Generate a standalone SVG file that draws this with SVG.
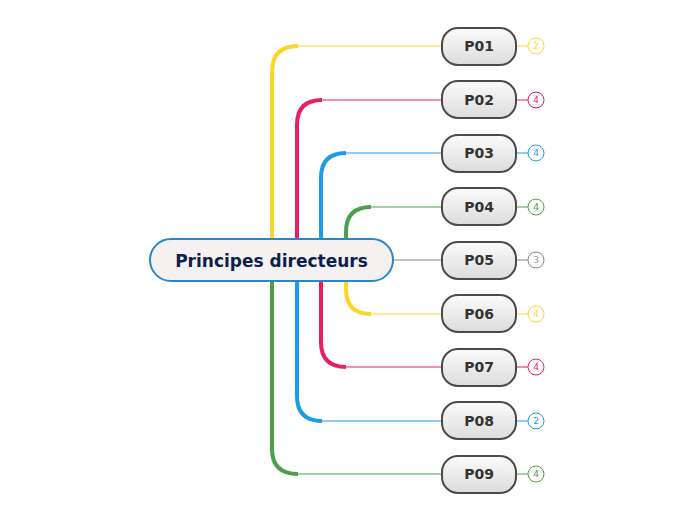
<svg xmlns="http://www.w3.org/2000/svg" width="696" height="520" viewBox="0 0 696 520">
<defs>
<linearGradient id="g" x1="0" y1="0" x2="0" y2="1"><stop offset="0" stop-color="#fbfbfb"/><stop offset="1" stop-color="#dcdcdc"/></linearGradient>
<style>
.n rect{fill:url(#g);stroke:#4a4a4a;stroke-width:2}
.n text{font-family:"DejaVu Sans",sans-serif;font-weight:bold;font-size:14px;fill:#333;text-anchor:middle}
.c{fill:#fff;stroke-width:1}
.ct{font-family:"DejaVu Sans",sans-serif;font-size:9px;text-anchor:middle}
.t{fill:none;stroke-width:4}
.h{fill:none;stroke-width:1}
.y{stroke:#fdd52a}.r{stroke:#e91e63}.b{stroke:#1e9be9}.gr{stroke:#4ca04a}.gy{stroke:#888}
</style>
</defs>
<g id="connectors">
<path class="t y" d="M272 240 V72 Q272 46 298 46"/><path class="h y" d="M296 46 H442 M516 46 H528"/>
<path class="t r" d="M297 240 V125 Q297 100 322 100"/><path class="h r" d="M320 100 H442 M516 100 H528"/>
<path class="t b" d="M321 240 V178 Q321 153 346 153"/><path class="h b" d="M344 153 H442 M516 153 H528"/>
<path class="t gr" d="M346 240 V232 Q346 207 371 207"/><path class="h gr" d="M369 207 H442 M516 207 H528"/>
<path class="h gy" d="M393 260 H442 M516 260 H528"/>
<path class="t y" d="M346 280 V289 Q346 314 371 314"/><path class="h y" d="M369 314 H442 M516 314 H528"/>
<path class="t r" d="M321 280 V342 Q321 367 346 367"/><path class="h r" d="M344 367 H442 M516 367 H528"/>
<path class="t b" d="M297 280 V396 Q297 421 322 421"/><path class="h b" d="M320 421 H442 M516 421 H528"/>
<path class="t gr" d="M272 280 V449 Q272 474 298 474"/><path class="h gr" d="M296 474 H442 M516 474 H528"/>
</g>
<g id="center"><rect x="150" y="239" width="243" height="42" rx="21" fill="#f5f1f1" stroke="#2a86c8" stroke-width="2"/>
<text x="271.5" y="266.5" font-family="DejaVu Sans,sans-serif" font-weight="bold" font-size="17" fill="#0e1f4f" text-anchor="middle">Principes directeurs</text></g>
<g id="p01" class="n"><rect x="442" y="28" width="74" height="37" rx="16"/><text x="479" y="51">P01</text><circle class="c y" cx="536" cy="46" r="8"/><text class="ct" x="536" y="49" fill="#fdd52a" style="font-weight:normal;font-size:9px;fill:#fdd52a">2</text></g>
<g id="p02" class="n"><rect x="442" y="81" width="74" height="37" rx="16"/><text x="479" y="105">P02</text><circle class="c r" cx="536" cy="100" r="8"/><text x="536" y="103" style="font-weight:normal;font-size:9px;fill:#e91e63">4</text></g>
<g id="p03" class="n"><rect x="442" y="135" width="74" height="37" rx="16"/><text x="479" y="158">P03</text><circle class="c b" cx="536" cy="153" r="8"/><text x="536" y="156" style="font-weight:normal;font-size:9px;fill:#1e9be9">4</text></g>
<g id="p04" class="n"><rect x="442" y="188" width="74" height="37" rx="16"/><text x="479" y="212">P04</text><circle class="c gr" cx="536" cy="207" r="8"/><text x="536" y="210" style="font-weight:normal;font-size:9px;fill:#4ca04a">4</text></g>
<g id="p05" class="n"><rect x="442" y="242" width="74" height="37" rx="16"/><text x="479" y="265">P05</text><circle class="c gy" cx="536" cy="260" r="8"/><text x="536" y="263" style="font-weight:normal;font-size:9px;fill:#999">3</text></g>
<g id="p06" class="n"><rect x="442" y="295" width="74" height="37" rx="16"/><text x="479" y="319">P06</text><circle class="c y" cx="536" cy="314" r="8"/><text x="536" y="317" style="font-weight:normal;font-size:9px;fill:#fdd52a">4</text></g>
<g id="p07" class="n"><rect x="442" y="349" width="74" height="37" rx="16"/><text x="479" y="372">P07</text><circle class="c r" cx="536" cy="367" r="8"/><text x="536" y="370" style="font-weight:normal;font-size:9px;fill:#e91e63">4</text></g>
<g id="p08" class="n"><rect x="442" y="402" width="74" height="37" rx="16"/><text x="479" y="426">P08</text><circle class="c b" cx="536" cy="421" r="8"/><text x="536" y="424" style="font-weight:normal;font-size:9px;fill:#1e9be9">2</text></g>
<g id="p09" class="n"><rect x="442" y="456" width="74" height="37" rx="16"/><text x="479" y="479">P09</text><circle class="c gr" cx="536" cy="474" r="8"/><text x="536" y="477" style="font-weight:normal;font-size:9px;fill:#4ca04a">4</text></g>
</svg>
